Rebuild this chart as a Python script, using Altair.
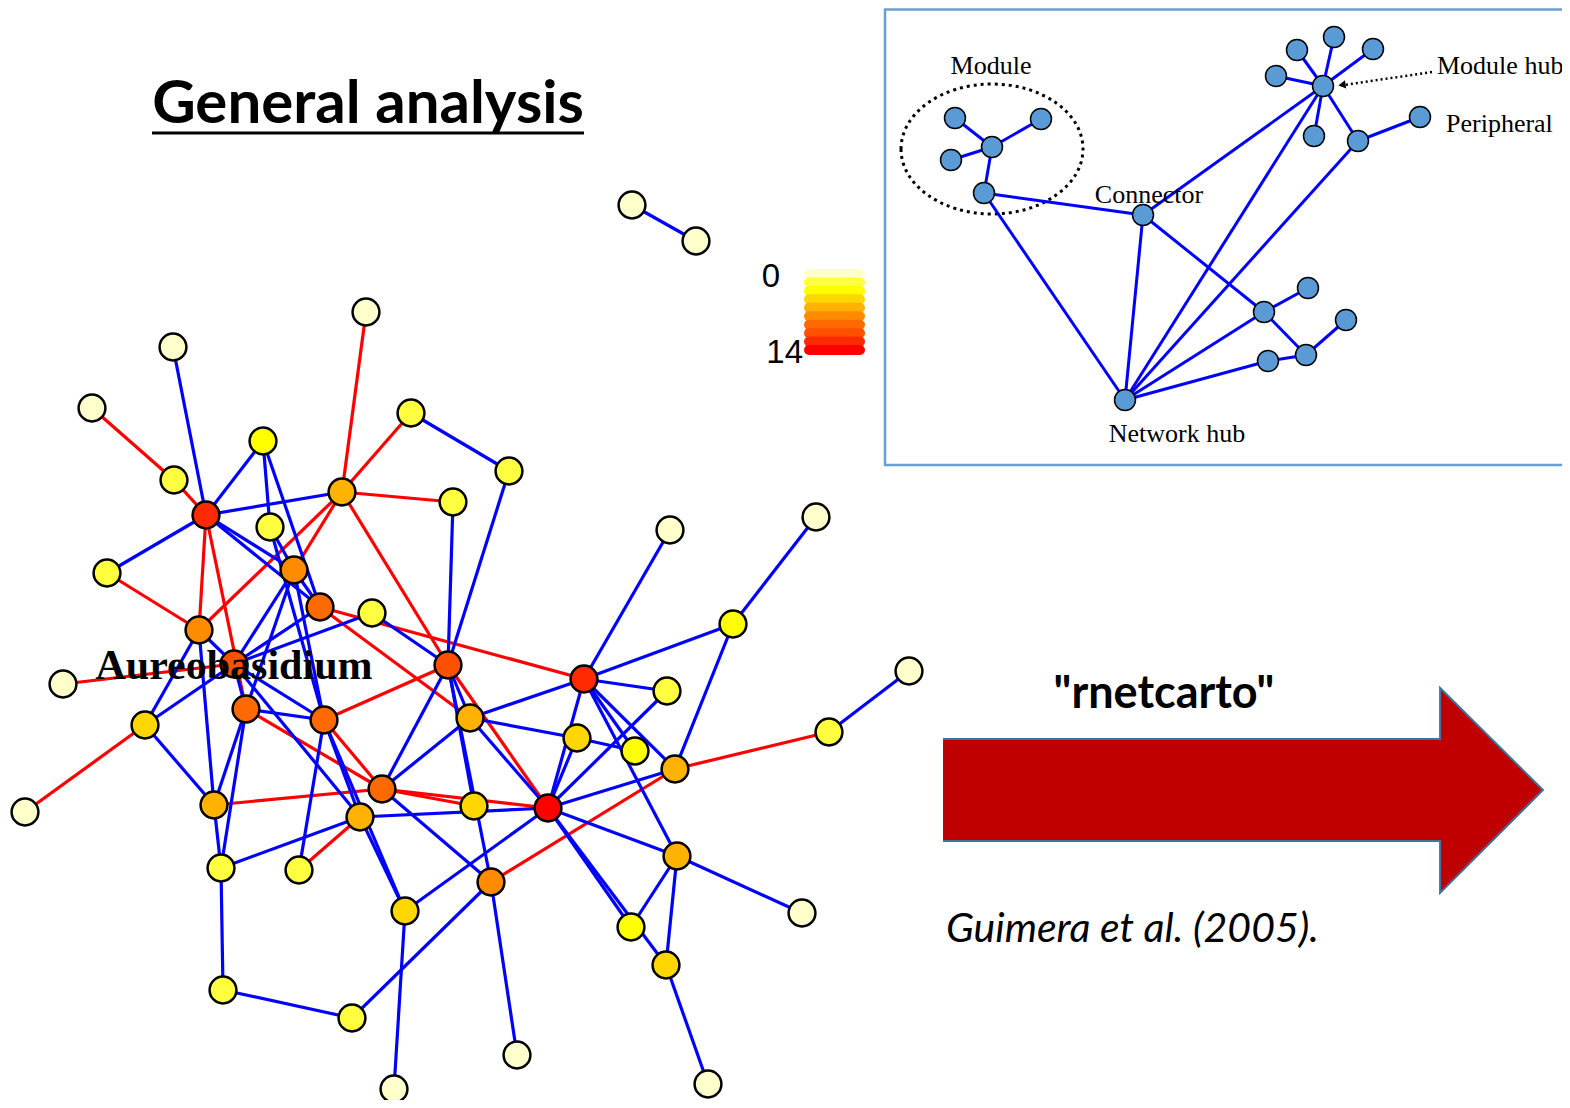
import altair as alt
import pandas as pd

# ---------------- main network ----------------
node_id = list(range(1, 55))
node_x = [632, 696, 366, 173, 92, 411, 263, 509, 174, 206, 342, 453, 270, 670, 816, 107, 294, 320, 372, 199,
          733, 234, 448, 584, 63, 909, 667, 246, 145, 324, 470, 577, 635, 829, 675, 382, 214, 25, 474, 548,
          360, 221, 299, 677, 491, 405, 802, 631, 666, 223, 352, 517, 394, 708]
node_y = [205, 241, 312, 347, 408, 413, 441, 471, 480, 515, 492, 502, 527, 530, 517, 573, 570, 607, 613, 630,
          624, 664, 665, 679, 684, 671, 691, 709, 725, 720, 718, 738, 751, 732, 769, 789, 805, 812, 806, 808,
          817, 868, 870, 856, 882, 911, 913, 927, 965, 990, 1018, 1055, 1089, 1084]
node_level = [0, 0, 0, 0, 0, 1, 2, 1, 1, 8, 4, 1, 1, 0, 0, 1, 5, 6, 1, 5,
              2, 7, 7, 8, 0, 0, 1, 6, 3, 6, 4, 3, 2, 1, 4, 6, 4, 0, 3, 9,
              4, 1, 1, 4, 5, 3, 0, 2, 3, 1, 1, 0, 0, 0]

blue_edges = [(1, 2), (4, 10), (7, 10), (7, 13), (7, 18), (10, 11), (6, 8), (12, 23), (8, 23), (10, 16),
              (10, 17), (10, 18), (13, 17), (13, 30), (17, 30), (17, 18), (17, 22), (17, 28), (18, 22),
              (19, 22), (19, 23), (20, 22), (20, 29), (20, 37), (22, 29), (22, 30), (22, 28), (22, 41),
              (29, 37), (28, 30), (28, 37), (28, 42), (37, 42), (41, 42), (42, 50), (50, 51), (51, 45),
              (30, 41), (30, 43), (30, 46), (41, 46), (46, 53), (46, 40), (36, 45), (23, 31), (23, 36),
              (23, 39), (23, 45), (31, 24), (31, 32), (31, 36), (31, 40), (24, 14), (24, 21), (24, 27),
              (24, 40), (24, 33), (24, 35), (24, 44), (32, 33), (32, 40), (27, 40), (21, 15), (21, 35),
              (35, 40), (34, 26), (40, 44), (40, 48), (40, 49), (44, 48), (44, 49), (44, 47), (49, 54),
              (45, 52), (41, 40)]
red_edges = [(5, 9), (9, 10), (3, 11), (6, 11), (11, 12), (11, 17), (11, 20), (11, 23), (10, 20), (10, 28),
             (16, 20), (25, 22), (38, 29), (18, 24), (18, 31), (23, 30), (23, 40), (30, 36), (28, 36),
             (37, 36), (36, 40), (36, 39), (41, 43), (35, 34), (35, 45)]

heat_palette = ["#FFFFCC", "#FFFF40", "#FFFF00", "#FFD700", "#FFB300",
                "#FF8C00", "#FF6A00", "#FF5000", "#FF2A00", "#FF0000"]
legend_labels = ["0", "14"]

# ---------------- inset (module roles) ----------------
inset_name = ["m1", "m2", "m3", "m4", "m5", "con", "net", "hub", "h1", "h2", "h3", "h4", "h5",
              "p0", "per", "b1", "b2", "b3", "b4", "b5"]
inset_x = [955, 1041, 992, 951, 984, 1143, 1125, 1323, 1297, 1334, 1373, 1276, 1314,
           1358, 1420, 1264, 1308, 1306, 1346, 1268]
inset_y = [118, 119, 147, 160, 193, 215, 400, 86, 50, 37, 49, 76, 136,
           141, 117, 312, 288, 355, 320, 361]
inset_edges = [("m1", "m3"), ("m2", "m3"), ("m4", "m3"), ("m3", "m5"), ("m5", "con"), ("m5", "net"),
               ("con", "hub"), ("con", "net"), ("con", "b1"), ("hub", "net"), ("hub", "h1"), ("hub", "h2"),
               ("hub", "h3"), ("hub", "h4"), ("hub", "h5"), ("hub", "p0"), ("p0", "per"), ("p0", "net"),
               ("net", "b1"), ("net", "b5"), ("b1", "b2"), ("b1", "b3"), ("b3", "b4"), ("b3", "b5")]
inset_labels = ["Module", "Module hub", "Peripheral", "Connector", "Network hub"]
inset_label_x = [991, 1437, 1446, 1149, 1177]
inset_label_y = [74, 74, 132, 203, 442]
inset_label_align = ["center", "left", "left", "center", "center"]

# ---------------- build tables ----------------
nodes = pd.DataFrame({"id": node_id, "x": node_x, "y": node_y, "level": node_level})
pos = {i: (x, y) for i, x, y in zip(node_id, node_x, node_y)}
erows = []
for kind, lst in (("inter", red_edges), ("intra", blue_edges)):
    for a, b in lst:
        erows.append({"x": pos[a][0], "y": pos[a][1], "x2": pos[b][0], "y2": pos[b][1], "kind": kind})
edges = pd.DataFrame(erows)

ipos = {n: (x, y) for n, x, y in zip(inset_name, inset_x, inset_y)}
inodes = pd.DataFrame({"name": inset_name, "x": inset_x, "y": inset_y})
iedges = pd.DataFrame([{"x": ipos[a][0], "y": ipos[a][1], "x2": ipos[b][0], "y2": ipos[b][1]}
                       for a, b in inset_edges])

XS = alt.Scale(domain=[8, 1562], nice=False, zero=False)
YS = alt.Scale(domain=[8, 1100], nice=False, zero=False, reverse=True)


def X(f="x"):
    return alt.X(f"{f}:Q", scale=XS, axis=None)


def Y(f="y"):
    return alt.Y(f"{f}:Q", scale=YS, axis=None)


def text_layer(df, **kw):
    return alt.Chart(df).mark_text(baseline="alphabetic", **kw).encode(x=X(), y=Y(), text="t:N")


layers = []

# inset frame
frame = pd.DataFrame({"x": [885], "x2": [1580], "y": [9.5], "y2": [465]})
layers.append(alt.Chart(frame).mark_rect(fill=None, stroke="#6A9FD6", strokeWidth=2.5).encode(
    x=X(), x2="x2:Q", y=Y(), y2="y2:Q"))

# dotted module ellipse
ell = pd.DataFrame({"x": [992], "y": [149]})
layers.append(alt.Chart(ell).mark_point(
    shape="M-1,0A1,0.714,0,1,0,1,0A1,0.714,0,1,0,-1,0Z", size=182 * 182, filled=False,
    stroke="black", strokeWidth=3, strokeDash=[3, 4], opacity=1).encode(x=X(), y=Y()))

# inset edges and nodes
layers.append(alt.Chart(iedges).mark_rule(color="#0000FF", strokeWidth=3).encode(
    x=X(), y=Y(), x2="x2:Q", y2="y2:Q"))
layers.append(alt.Chart(inodes).mark_circle(size=440, fill="#5B9BD5", stroke="black",
                                              strokeWidth=1.5, opacity=1).encode(x=X(), y=Y()))
ilab = pd.DataFrame({"t": inset_labels, "x": inset_label_x, "y": inset_label_y, "al": inset_label_align})
for al in ("center", "left"):
    layers.append(text_layer(ilab[ilab["al"] == al], align=al, font="Liberation Serif",
                             fontSize=26, color="black"))

# module hub dotted arrow
harrow = pd.DataFrame({"x": [1432], "y": [72], "x2": [1344], "y2": [85]})
layers.append(alt.Chart(harrow).mark_rule(color="black", strokeWidth=2.5, strokeDash=[2, 3]).encode(
    x=X(), y=Y(), x2="x2:Q", y2="y2:Q"))
layers.append(alt.Chart(pd.DataFrame({"x": [1342], "y": [85]})).mark_point(
    shape="triangle-left", filled=True, color="black", size=70, angle=351, opacity=1).encode(x=X(), y=Y()))

# colour legend
leg = pd.DataFrame({"level": list(range(10)), "x": [809] * 10, "x2": [860] * 10,
                    "y": [274 + i * 8.45 for i in range(10)]})
layers.append(alt.Chart(leg).mark_rule(strokeWidth=10, strokeCap="round").encode(
    x=X(), x2="x2:Q", y=Y(),
    color=alt.Color("level:O", scale=alt.Scale(domain=list(range(10)), range=heat_palette), legend=None)))
layers.append(text_layer(pd.DataFrame({"t": [legend_labels[0]], "x": [771], "y": [287]}),
                         align="center", font="Liberation Sans", fontSize=33, color="black"))
layers.append(text_layer(pd.DataFrame({"t": [legend_labels[1]], "x": [803], "y": [363]}),
                         align="right", font="Liberation Sans", fontSize=33, color="black"))

# main edges & nodes
layers.append(alt.Chart(edges).mark_rule(strokeWidth=3.2).encode(
    x=X(), y=Y(), x2="x2:Q", y2="y2:Q",
    color=alt.Color("kind:N", scale=alt.Scale(domain=["intra", "inter"], range=["#0000FF", "#FF0000"]),
                    legend=None)))
layers.append(alt.Chart(nodes).mark_circle(size=720, stroke="black", strokeWidth=2.5, opacity=1).encode(
    x=X(), y=Y(),
    color=alt.Color("level:O", scale=alt.Scale(domain=list(range(10)), range=heat_palette), legend=None)))

layers.append(text_layer(pd.DataFrame({"t": ["Aureobasidium"], "x": [234], "y": [679]}),
                         align="center", font="Liberation Serif", fontSize=42, fontWeight="bold",
                         color="black"))

# title
layers.append(text_layer(pd.DataFrame({"t": ["General analysis"], "x": [368], "y": [123]}),
                         align="center", font="Lato", fontSize=60, fontWeight="bold", color="black"))
layers.append(alt.Chart(pd.DataFrame({"x": [152], "x2": [584], "y": [133]})).mark_rule(
    color="black", strokeWidth=3).encode(x=X(), x2="x2:Q", y=Y()))

# big arrow: fill, then outline open on the left side
arrow = pd.DataFrame({"x": [1243], "y": [790]})
layers.append(alt.Chart(arrow).mark_point(
    shape="M-1,-0.17L0.657,-0.17L0.657,-0.34L1,0L0.657,0.343L0.657,0.17L-1,0.17Z",
    size=600 * 600, filled=True, fill="#C00000", strokeWidth=0, opacity=1).encode(x=X(), y=Y()))
layers.append(alt.Chart(arrow).mark_point(
    shape="M-1,-0.17L0.657,-0.17L0.657,-0.34L1,0L0.657,0.343L0.657,0.17L-1,0.17",
    size=600 * 600, filled=False, stroke="#41719C", strokeWidth=2, opacity=1).encode(x=X(), y=Y()))
layers.append(text_layer(pd.DataFrame({"t": ['"rnetcarto"'], "x": [1164], "y": [708]}),
                         align="center", font="Lato", fontSize=45, fontWeight="bold", color="black"))
layers.append(text_layer(pd.DataFrame({"t": ["Guimera et al. (2005)."], "x": [946], "y": [942]}),
                         align="left", font="Lato", fontSize=41, fontStyle="italic", color="black"))

chart = alt.layer(*layers).resolve_scale(color="independent").properties(
    width=1554, height=1092, padding=0, autosize="none"
).configure_view(stroke=None)

chart.save("out.html", embed_options={"renderer": "svg", "actions": False})
